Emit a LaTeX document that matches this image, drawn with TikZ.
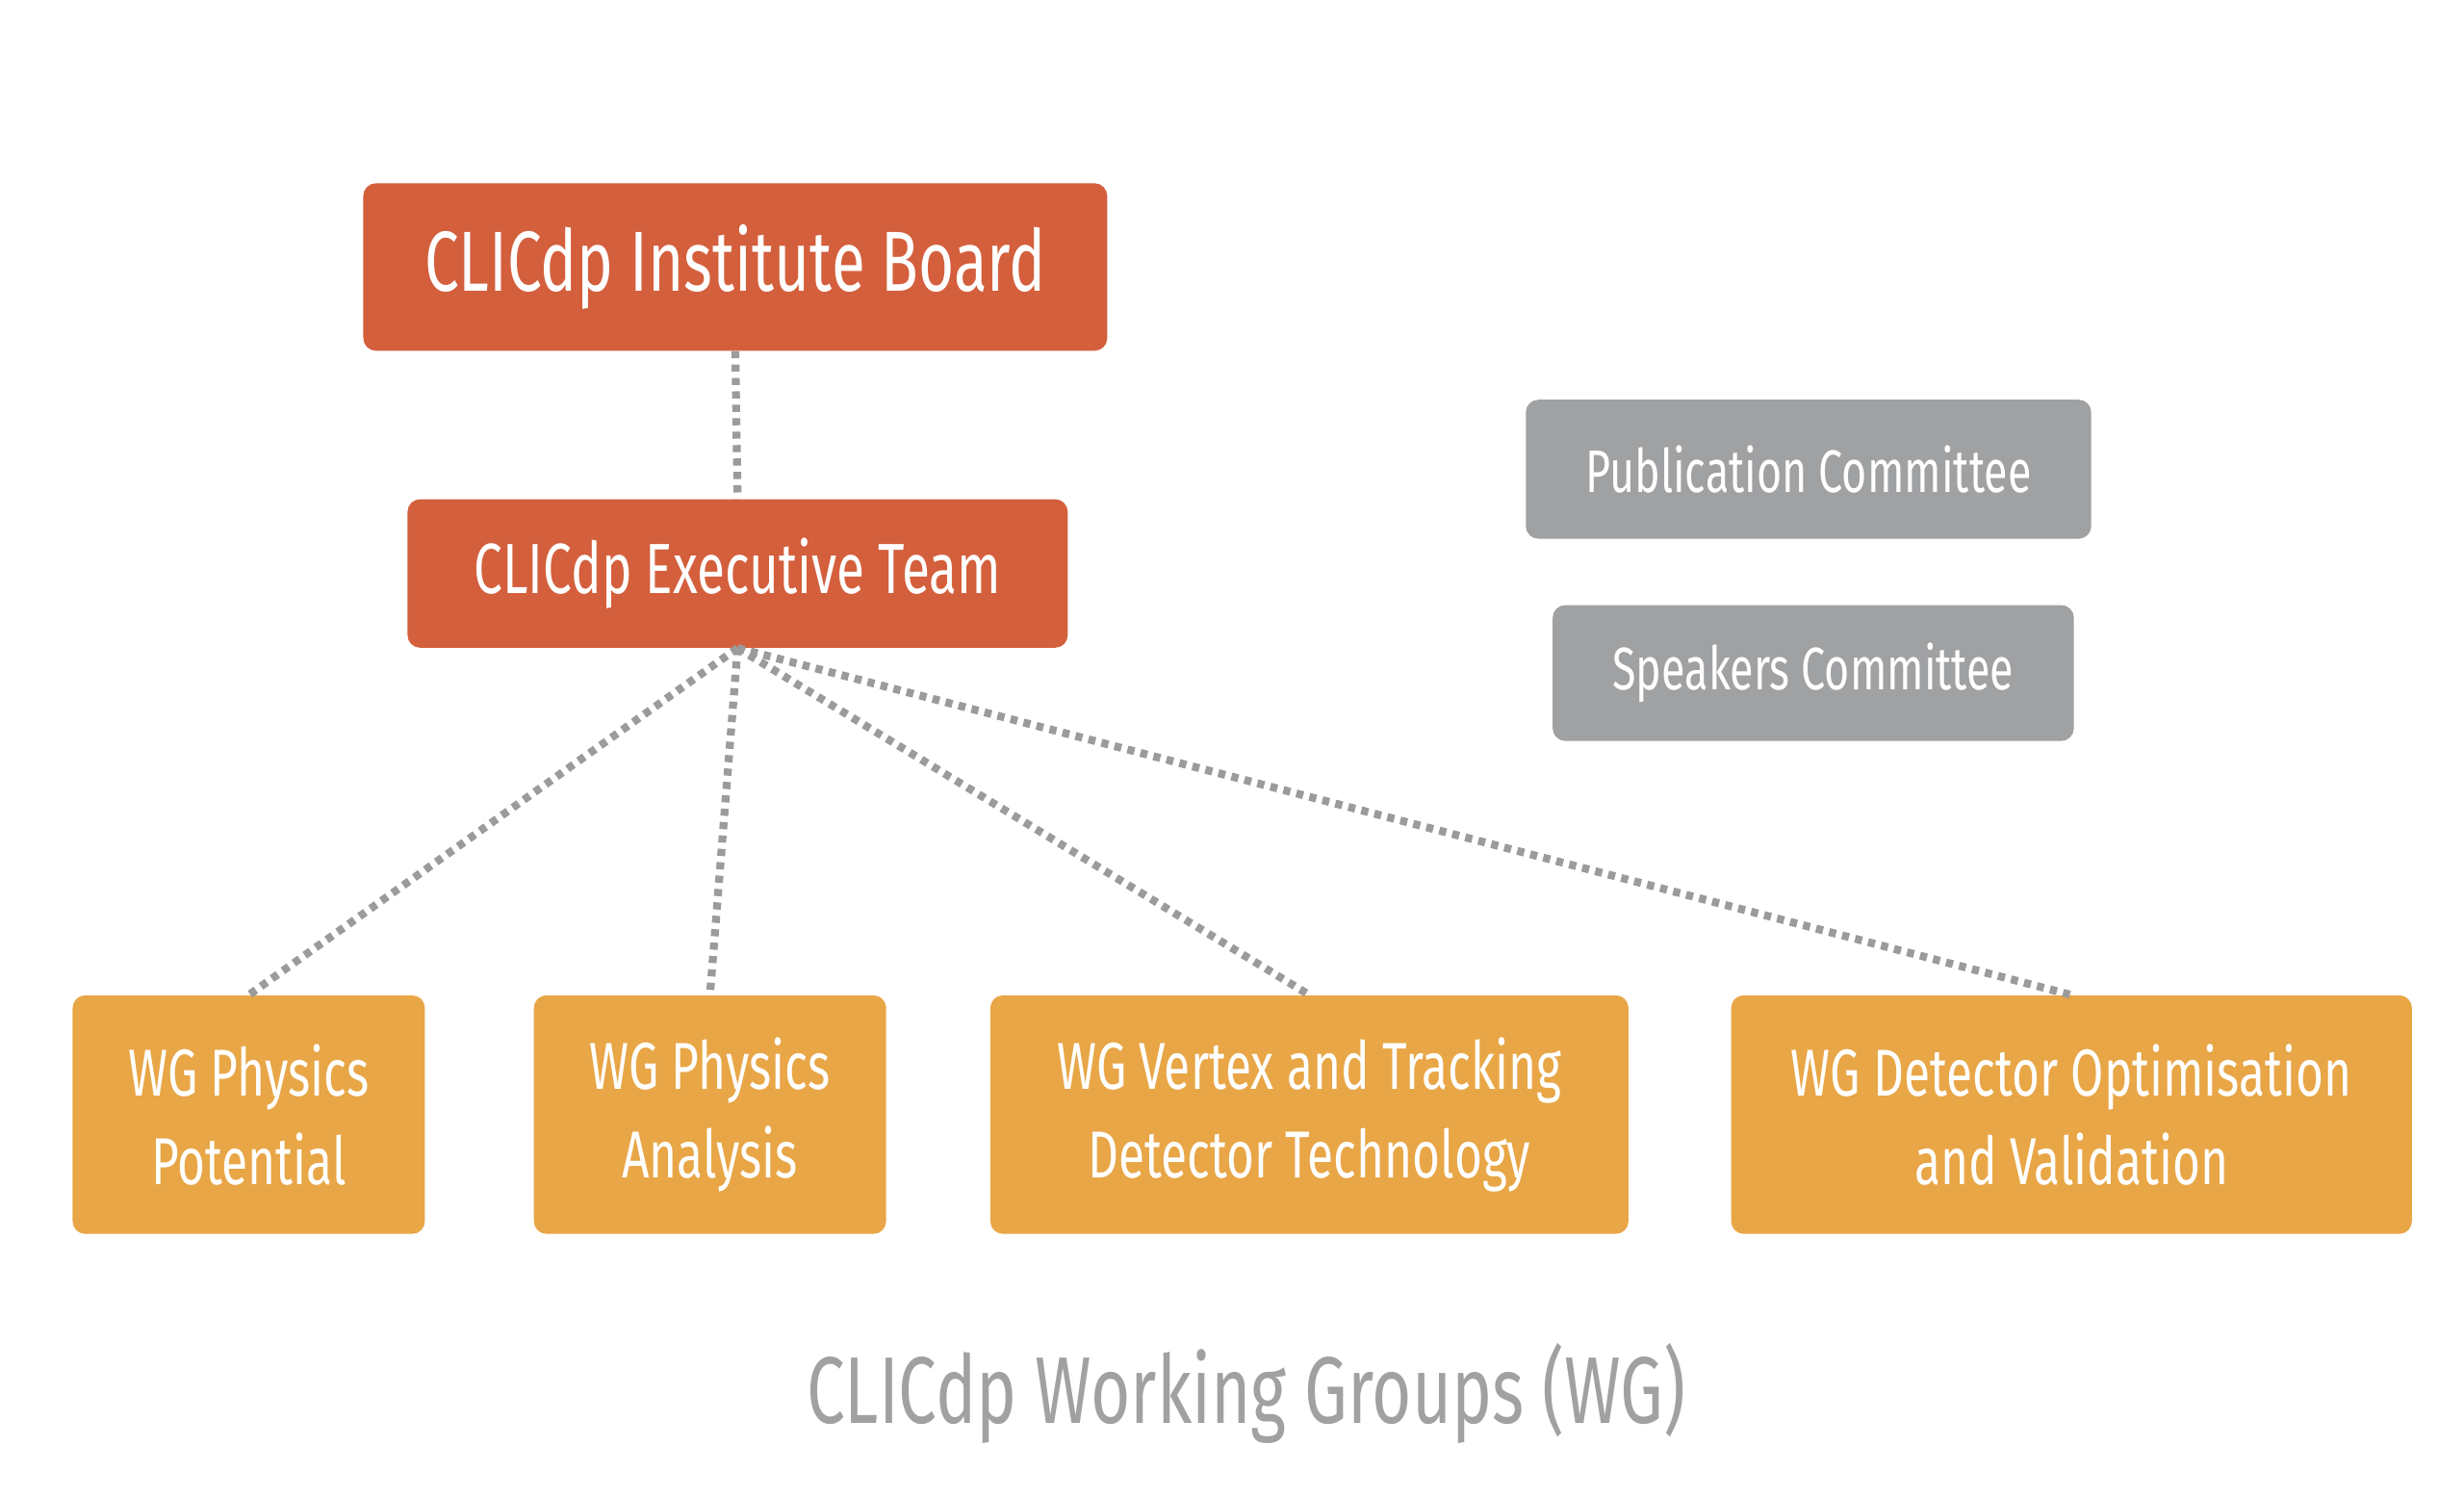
\documentclass[tikz,border=0pt]{standalone}
\usepackage{fontspec}
\setmainfont{Fira Sans}[FakeStretch=0.72]
\definecolor{cred}{HTML}{D45F3C}
\definecolor{cgray}{HTML}{A0A1A3}
\definecolor{corange}{HTML}{E8A646}
\definecolor{cline}{HTML}{9B9B9B}
\begin{document}
\begin{tikzpicture}[x=1pt,y=-1pt,
 box/.style={rounded corners=8pt,text=white,align=center,inner sep=0pt},
 conn/.style={cline,line width=5pt,dash pattern=on 4.5pt off 4pt}]
\useasboundingbox (0,0) rectangle (1560,948);
\fill[white] (0,0) rectangle (1560,948);
\node[box,fill=cred,minimum width=471pt,minimum height=106pt,font=\fontsize{54}{60}\selectfont] (ib) at (465.5,169) {CLICdp Institute Board};
\node[box,fill=cred,minimum width=418pt,minimum height=94pt,font=\fontsize{45}{50}\selectfont] (et) at (467,363) {CLICdp Executive Team};
\node[box,fill=cgray,minimum width=358pt,minimum height=88pt,font=\fontsize{38}{42}\selectfont] (pc) at (1145,297) {Publication Committee};
\node[box,fill=cgray,minimum width=330pt,minimum height=86pt,font=\fontsize{38}{42}\selectfont] (sc) at (1148,426) {Speakers Committee};
\tikzset{wg/.style={box,fill=corange,minimum height=151pt,font=\fontsize{42}{56}\selectfont}}
\node[wg,minimum width=223pt] (w1) at (157.5,705.5) {WG Physics\\Potential};
\node[wg,minimum width=223pt] (w2) at (449.5,705.5) {WG Physics\\Analysis};
\node[wg,minimum width=404pt] (w3) at (829,705.5) {WG Vertex and Tracking\\Detector Technology};
\node[wg,minimum width=431pt] (w4) at (1311.5,705.5) {WG Detector Optimisation\\and Validation};
\node[text=cgray,font=\fontsize{60}{66}\selectfont] (cap) at (789,882) {CLICdp Working Groups (WG)};
\draw[conn] (ib.south) -- (et.north);
\draw[conn] (et.south) -- (w1.north);
\draw[conn] (et.south) -- (w2.north);
\draw[conn] (et.south) -- (w3.north);
\draw[conn] (et.south) -- (w4.north);
\end{tikzpicture}
\end{document}
